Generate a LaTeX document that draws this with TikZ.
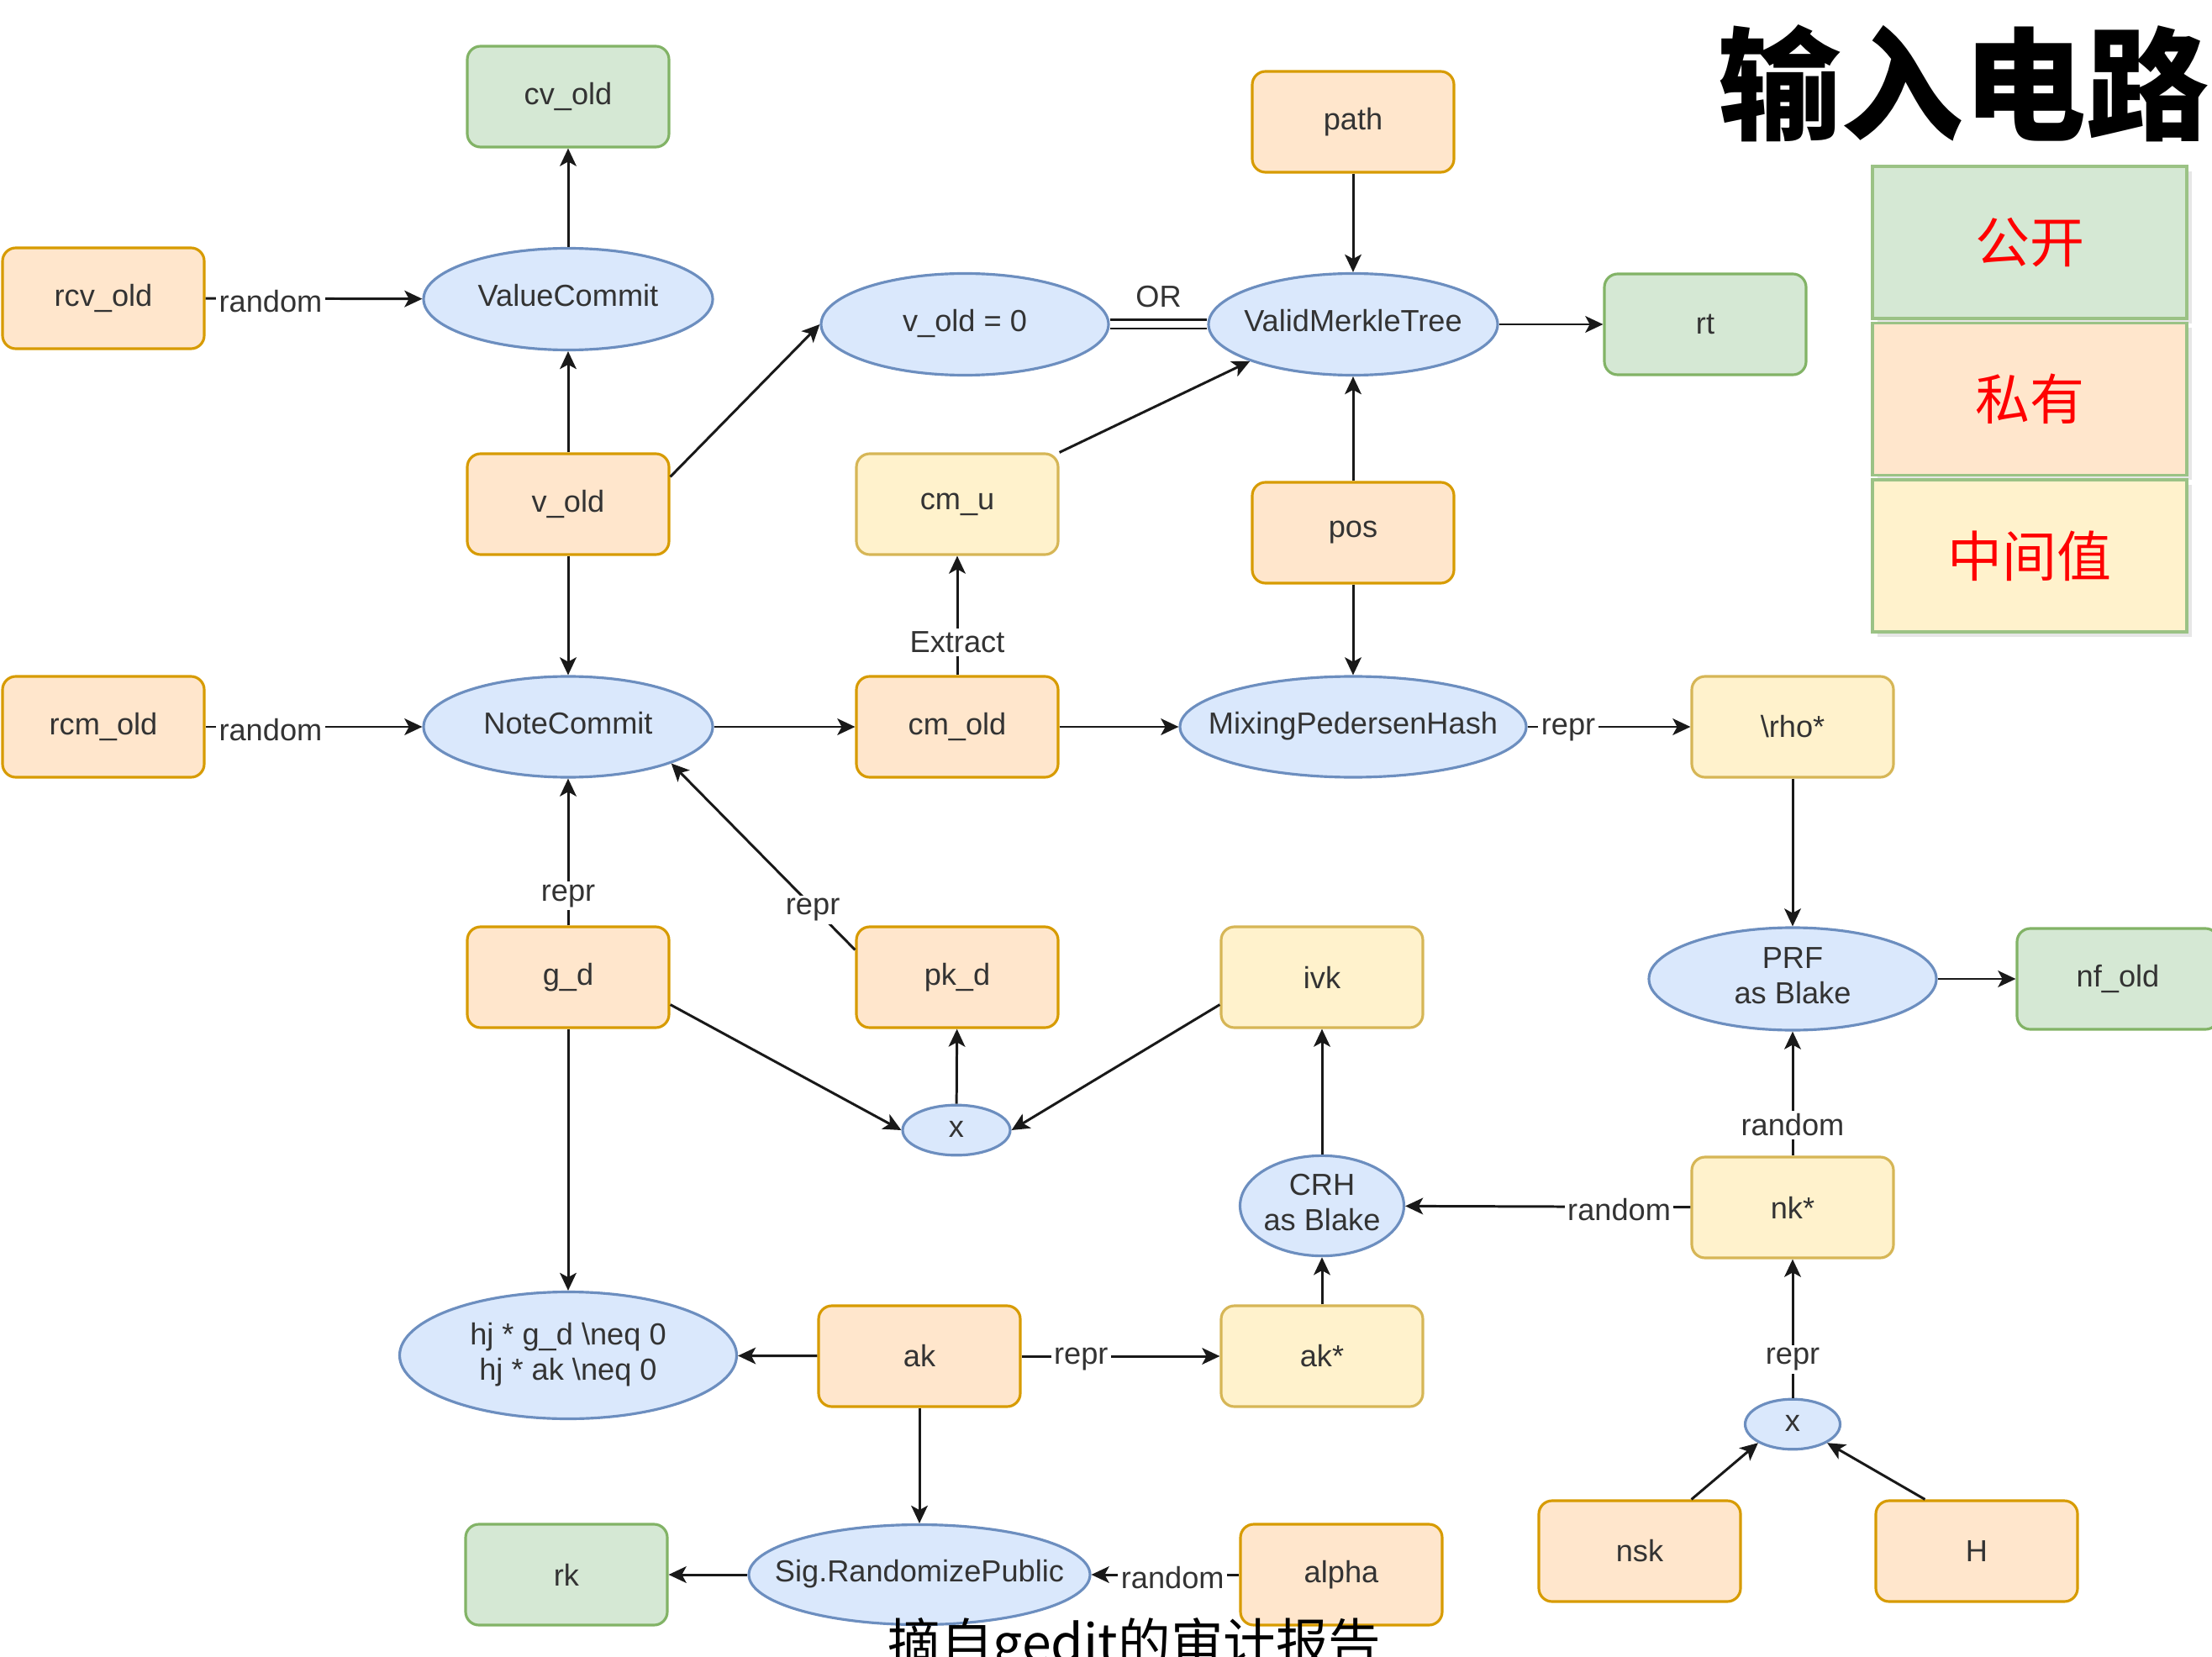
\documentclass[tikz,border=0pt]{standalone}
\usepackage{fontspec}
\setmainfont{Liberation Sans}
\newfontfamily\cjk{Noto Sans CJK SC}
\usetikzlibrary{shapes.geometric,arrows.meta,shadows}
\definecolor{pubfill}{HTML}{D5E8D4}
\definecolor{publine}{HTML}{82B366}
\definecolor{privfill}{HTML}{FFE6CC}
\definecolor{privline}{HTML}{D79B00}
\definecolor{midfill}{HTML}{FFF2CC}
\definecolor{midline}{HTML}{D6B656}
\definecolor{opfill}{HTML}{DAE8FC}
\definecolor{opline}{HTML}{6C8EBF}
\definecolor{ink}{HTML}{333333}
% text of an ellipse, kept from widening it
\newcommand\inop[1]{\makebox[0pt]{\begin{tabular}{@{}c@{}}#1\end{tabular}}}

\begin{document}
\begin{tikzpicture}[font=\fontsize{10.3}{12}\selectfont, text=ink]
\tikzset{box/.style={draw, rounded corners=4.5pt, line width=0.9pt, minimum width=2.4cm, minimum height=1.2cm, inner sep=0pt},
    pub/.style={box, fill=pubfill, draw=publine},
    priv/.style={box, fill=privfill, draw=privline},
    mid/.style={box, fill=midfill, draw=midline},
    op/.style={ellipse, draw=opline, fill=opfill, line width=0.9pt, inner sep=0pt, minimum width=3.44cm, minimum height=1.21cm},
    legend/.style={draw=publine!80, line width=0.9pt, minimum width=3.74cm, minimum height=1.81cm, text=red, font=\cjk\fontsize{18.5}{20}\selectfont,
        drop shadow={opacity=0.2, shadow xshift=0.6mm, shadow yshift=-0.6mm}},
    flow/.style={draw=black!90, line width=0.85pt, -{Stealth[length=6pt,width=5.6pt,inset=1.5pt]}},
    lbl/.style={fill=white, inner sep=1pt, yshift=-1pt}}
\useasboundingbox (0,0) rectangle (26.32,-19.72);

\node[anchor=base west, inner sep=0pt, text=black, font=\cjk\bfseries\fontsize{41.5}{44}\selectfont] (title) at (20.44,-1.56) {输入电路};
\node[legend, fill=pubfill] (kpub) at (24.15,-2.885) {公开};
\node[legend, fill=privfill] (kpriv) at (24.15,-4.75) {私有};
\node[legend, fill=midfill] (kmid) at (24.15,-6.615) {中间值};

% top rows
\node[pub] (cvold) at (6.76,-1.15) {cv\_old};
\node[priv] (rcvold) at (1.23,-3.55) {rcv\_old};
\node[op] (vc) at (6.76,-3.56) {\inop{ValueCommit}};
\node[priv] (path) at (16.10,-1.45) {path};
\node[op, minimum width=3.42cm] (vzero) at (11.48,-3.86) {\inop{v\_old = 0}};
\node[op] (vmt) at (16.10,-3.86) {\inop{ValidMerkleTree}};
\node[pub] (rt) at (20.29,-3.86) {rt};
\node[priv] (vold) at (6.76,-6.00) {v\_old};
\node[mid] (cmu) at (11.39,-6.00) {cm\_u};
\node[priv] (pos) at (16.10,-6.34) {pos};

% middle rows
\node[priv] (rcmold) at (1.23,-8.65) {rcm\_old};
\node[op, minimum height=1.2cm] (nc) at (6.76,-8.65) {\inop{NoteCommit}};
\node[priv] (cmold) at (11.39,-8.65) {cm\_old};
\node[op, minimum width=4.12cm, minimum height=1.2cm] (mph) at (16.10,-8.65) {\inop{MixingPedersenHash}};
\node[mid] (rho) at (21.33,-8.65) {\textbackslash rho*};
\node[priv] (gd) at (6.76,-11.63) {g\_d};
\node[priv] (pkd) at (11.39,-11.63) {pk\_d};
\node[mid] (ivk) at (15.73,-11.63) {ivk};
\node[op, minimum width=3.42cm, minimum height=1.22cm] (prf) at (21.33,-11.65) {\inop{PRF\\as Blake}};
\node[pub] (nfold) at (25.20,-11.65) {nf\_old};
\node[op, minimum width=1.28cm, minimum height=0.57cm] (xa) at (11.38,-13.45) {\inop{x}};
\node[op, minimum width=1.95cm, minimum height=1.18cm] (crh) at (15.73,-14.35) {\inop{CRH\\as Blake}};
\node[mid] (nk) at (21.33,-14.37) {nk*};

% bottom rows
\node[op, minimum width=4.01cm, minimum height=1.51cm] (hj) at (6.76,-16.13) {\inop{hj * g\_d \textbackslash neq 0\\hj * ak \textbackslash neq 0}};
\node[priv] (ak) at (10.94,-16.14) {ak};
\node[mid] (aks) at (15.73,-16.14) {ak*};
\node[op, minimum width=1.13cm, minimum height=0.57cm] (xb) at (21.33,-16.95) {\inop{x}};
\node[priv] (nsk) at (19.51,-18.46) {nsk};
\node[priv] (H) at (23.52,-18.46) {H};
\node[pub] (rk) at (6.74,-18.74) {rk};
\node[op, minimum width=4.06cm, minimum height=1.19cm] (sig) at (10.94,-18.74) {\inop{Sig.RandomizePublic}};
\node[priv] (alpha) at (15.96,-18.74) {alpha};
\node[anchor=base west, inner sep=0pt, text=black, font=\cjk\fontsize{17.8}{20}\selectfont] (src) at (10.56,-19.78) {摘自gedit的审计报告};

\draw[flow] (rcvold) -- node[lbl, pos=0.3] {random} (vc);
\draw[flow] (vc) -- (cvold);
\draw[flow] (vold) -- (vc);
\draw[flow] (vold) -- (nc);
\draw[flow] (vold.15) -- (vzero.west);
\draw[draw=black!90, line width=0.75pt, double=white, double distance=2.2pt] (vzero) -- node[above=2pt] {OR} (vmt);
\draw[flow] (path) -- (vmt);
\draw[flow] (vmt) -- (rt);
\draw[flow] (cmu.north east) -- (vmt.south west);
\draw[flow] (pos) -- (vmt);
\draw[flow] (pos) -- (mph);
\draw[flow] (cmold) -- node[lbl, pos=0.3] {Extract} (cmu);
\draw[flow] (rcmold) -- node[lbl, pos=0.3] {random} (nc);
\draw[flow] (nc) -- (cmold);
\draw[flow] (cmold) -- (mph);
\draw[flow] (mph) -- node[lbl, pos=0.25] {repr} (rho);
\draw[flow] (rho) -- (prf);
\draw[flow] (prf) -- (nfold);
\draw[flow] (gd) -- node[lbl, pos=0.22] {repr} (nc);
\draw[flow] (pkd.165) -- node[lbl, pos=0.23] {repr} (nc.south east);
\draw[flow] (gd.-15) -- (xa.west);
\draw[flow] (ivk.195) -- (xa.east);
\draw[flow] (xa) -- (pkd);
\draw[flow] (gd) -- (hj);
\draw[flow] (crh) -- (ivk);
\draw[flow] (nk) -- node[lbl, pos=0.25] {random} (crh);
\draw[flow] (nk) -- node[lbl, pos=0.27] {random} (prf);
\draw[flow] (xb) -- node[lbl, pos=0.3] {repr} (nk);
\draw[flow] (nsk.45) -- (xb.south west);
\draw[flow] (H.135) -- (xb.south east);
\draw[flow] (ak) -- (hj);
\draw[flow] (ak) -- node[lbl, pos=0.3] {repr} (aks);
\draw[flow] (aks) -- (crh);
\draw[flow] (ak) -- (sig);
\draw[flow] (sig) -- (rk);
\draw[flow] (alpha) -- node[lbl, pos=0.45] {random} (sig);
\end{tikzpicture}
\end{document}
